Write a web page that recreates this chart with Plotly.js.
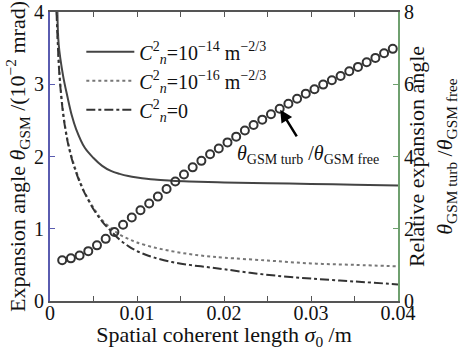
<!DOCTYPE html>
<html>
<head>
<meta charset="utf-8">
<script src="https://cdn.plot.ly/plotly-3.0.1.min.js"></script>
<style>html,body{margin:0;padding:0;background:#fff;}#chart{width:460px;height:350px;}</style>
</head>
<body>
<div id="chart"></div>
<script>
// Data
const xSolid = [0.00085,0.001,0.0015,0.002,0.0025,0.003,0.004,0.005,0.006,0.007,0.008,0.009,0.010,0.012,0.014,0.016,0.020,0.025,0.030,0.035,0.040];
const ySolid = [4.0,3.55,3.12,2.83,2.57,2.38,2.12,1.98,1.87,1.80,1.76,1.73,1.71,1.68,1.665,1.655,1.64,1.63,1.62,1.61,1.60];

const xDotted = [0.00077,0.0009,0.0011,0.0015,0.002,0.0025,0.003,0.0035,0.004,0.005,0.006,0.007,0.008,0.009,0.010,0.012,0.014,0.016,0.018,0.020,0.025,0.030,0.035,0.040];
const yDotted = [4.0,3.6,3.15,2.62,2.24,1.99,1.80,1.64,1.50,1.29,1.12,1.01,0.92,0.86,0.81,0.74,0.69,0.65,0.62,0.60,0.56,0.52,0.50,0.48];

const xDashDot = [0.00075,0.0009,0.0011,0.0015,0.002,0.0025,0.003,0.0035,0.004,0.005,0.006,0.007,0.008,0.009,0.010,0.011,0.012,0.014,0.016,0.018,0.020,0.023,0.026,0.030,0.035,0.040];
const yDashDot = [4.0,3.55,3.1,2.6,2.22,1.97,1.78,1.62,1.49,1.27,1.10,0.97,0.85,0.76,0.69,0.64,0.60,0.54,0.50,0.47,0.44,0.39,0.35,0.31,0.27,0.23];

const xRatio = [0.0014,0.0024,0.0034,0.0044,0.0054,0.0064,0.0074,0.0084,0.0094,0.0104,0.0114,0.0124,0.0134,0.0144,0.0154,0.0164,0.0174,0.0184,0.0194,0.0204,0.0214,0.0224,0.0234,0.0244,0.0254,0.0264,0.0274,0.0284,0.0294,0.0304,0.0314,0.0324,0.0334,0.0344,0.0354,0.0364,0.0374,0.0384,0.0394];
const yRatio = [1.13,1.18,1.26,1.38,1.54,1.72,1.91,2.11,2.31,2.51,2.70,2.89,3.10,3.31,3.50,3.70,3.88,4.06,4.22,4.39,4.55,4.72,4.87,5.02,5.17,5.32,5.46,5.60,5.74,5.86,5.99,6.11,6.23,6.36,6.48,6.61,6.73,6.86,6.98];

const legendNames = [
  '<i>C</i><sup>2</sup><sub><i>n</i></sub>=10<sup>−14</sup> m<sup>−2/3</sup>',
  '<i>C</i><sup>2</sup><sub><i>n</i></sub>=10<sup>−16</sup> m<sup>−2/3</sup>',
  '<i>C</i><sup>2</sup><sub><i>n</i></sub>=0'
];

const FONT = 'Liberation Serif, Times New Roman, serif';

const traces = [
  {x: xSolid, y: ySolid, name: legendNames[0], mode: 'lines', line: {color: '#444', width: 2, shape: 'spline'}},
  {x: xDotted, y: yDotted, name: legendNames[1], mode: 'lines', line: {color: '#777', width: 2, dash: 'dot', shape: 'spline'}},
  {x: xDashDot, y: yDashDot, name: legendNames[2], mode: 'lines', line: {color: '#333', width: 2, dash: 'dashdot', shape: 'spline'}},
  {x: xRatio, y: yRatio, yaxis: 'y2', mode: 'markers', showlegend: false,
   marker: {symbol: 'circle-open', size: 8, color: '#333', line: {width: 2, color: '#333'}}}
];

const layout = {
  width: 460, height: 350,
  margin: {l: 50, r: 62, t: 12, b: 49},
  paper_bgcolor: '#fff', plot_bgcolor: '#fff',
  font: {family: FONT, size: 20, color: '#111'},
  showlegend: true,
  legend: {x: 0.09, y: 0.93, xanchor: 'left', yanchor: 'top', bgcolor: 'rgba(0,0,0,0)',
           font: {family: FONT, size: 20, color: '#111'}, itemwidth: 48, tracegroupgap: 0},
  xaxis: {
    range: [0, 0.04], dtick: 0.01, tick0: 0, showgrid: false, zeroline: false,
    showline: true, linecolor: '#555', linewidth: 2, mirror: 'ticks',
    ticks: 'inside', ticklen: 5, tickcolor: '#555', ticklabelstandoff: -7,
    minor: {dtick: 0.005, ticks: 'inside', ticklen: 5, tickcolor: '#555'},
    tickfont: {family: FONT, size: 20, color: '#111'},
    title: {text: 'Spatial coherent length <i>σ</i><sub>0</sub> /m', font: {family: FONT, size: 22, color: '#111'}, standoff: 0}
  },
  yaxis: {
    range: [0, 4], dtick: 1, showgrid: false, zeroline: false,
    showline: true, linecolor: '#5a5cb0', linewidth: 2,
    ticks: 'inside', ticklen: 5, tickcolor: '#5a5cb0',
    tickfont: {family: FONT, size: 20, color: '#111'},
    title: {text: 'Expansion angle <i>θ</i><sub>GSM</sub> /(10<sup>−2</sup> mrad)', font: {family: FONT, size: 22, color: '#111'}, standoff: 2}
  },
  yaxis2: {
    overlaying: 'y', side: 'right', range: [0, 8], dtick: 2, showgrid: false, zeroline: false,
    showline: true, linecolor: '#6fa06f', linewidth: 2,
    ticks: 'inside', ticklen: 5, tickcolor: '#6fa06f',
    tickfont: {family: FONT, size: 20, color: '#111'},
    title: {text: 'Relative expansion angle<br><i>θ</i><sub>GSM turb</sub> /<i>θ</i><sub>GSM free</sub>', font: {family: FONT, size: 22, color: '#111'}, standoff: 2}
  },
  annotations: [
    {x: xRatio[25], y: yRatio[25], xref: 'x', yref: 'y2', text: '', showarrow: true,
     arrowhead: 2, arrowsize: 1, arrowwidth: 2.5, arrowcolor: '#000', ax: 18, ay: 29, standoff: 1},
    {x: 0.0296, y: 4.05, xref: 'x', yref: 'y2', xanchor: 'center', yanchor: 'middle', showarrow: false,
     text: '<i>θ</i><sub>GSM turb</sub> /<i>θ</i><sub>GSM free</sub>', font: {family: FONT, size: 20, color: '#111'}}
  ]
};

Plotly.newPlot('chart', traces, layout, {displayModeBar: false, staticPlot: true});
</script>
</body>
</html>
